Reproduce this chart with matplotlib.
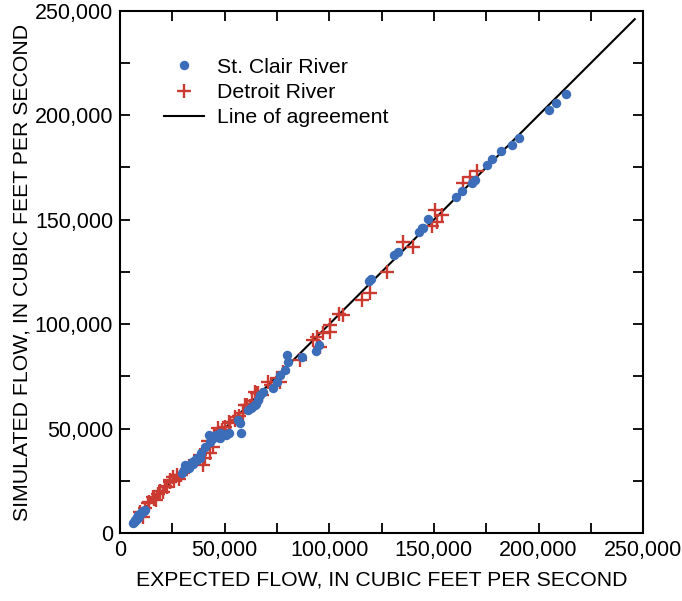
import matplotlib
matplotlib.use("Agg")
import matplotlib.pyplot as plt
from matplotlib.ticker import MultipleLocator, FuncFormatter
import numpy as np

plt.rcParams['font.family'] = ['Liberation Sans', 'DejaVu Sans']

# flows, in thousands of cubic feet per second
stclair_expected = [213.2, 208.4, 205.1, 190.7, 187.4, 182.1, 177.8, 175.4, 169.7, 168.3,
                    163.5, 160.6, 147.2, 144.8, 144.4, 142.9, 132.9, 131.0, 119.0, 120.0,
                    95.1, 93.7, 87.0, 79.8, 80.3, 78.9, 76.5, 75.0, 73.1, 68.4,
                    66.0, 64.5, 62.5, 56.4, 57.4, 57.8, 52.1, 50.5, 47.8, 46.5,
                    42.5, 43.0, 40.6, 38.5, 36.8, 36.0, 34.4, 33.5, 31.1, 29.6,
                    30.5, 10.5, 9.8, 8.6, 8.0, 7.2, 6.8, 6.2, 11.2,
                    33.0, 35.0, 37.0, 38.0, 32.0, 44.0, 46.0, 48.0, 49.0, 47.0,
                    61.0, 63.0, 65.0, 67.0, 9.0, 10.0, 8.5, 7.5, 11.5, 12.0]
stclair_simulated = [210.3, 205.9, 202.6, 189.2, 185.8, 183.0, 179.1, 176.2, 169.1, 167.6,
                     163.8, 160.9, 150.4, 146.1, 146.1, 144.2, 134.6, 133.1, 120.7, 121.5,
                     90.0, 87.2, 84.3, 85.2, 81.9, 78.1, 75.7, 72.3, 69.4, 67.5,
                     63.7, 61.3, 60.0, 54.1, 52.7, 47.9, 47.9, 47.0, 45.5, 46.0,
                     46.9, 43.6, 41.2, 38.5, 35.9, 35.0, 34.0, 32.8, 32.6, 28.7,
                     30.2, 10.1, 9.5, 8.6, 7.5, 6.2, 5.5, 4.8, 10.8,
                     31.0, 33.0, 35.0, 36.0, 31.5, 45.0, 47.0, 48.0, 47.5, 46.0,
                     59.0, 60.5, 62.0, 66.0, 8.0, 9.5, 7.0, 6.5, 10.5, 11.0]

detroit_expected = [170.7, 167.3, 164.0, 150.6, 153.9, 151.5, 149.1, 135.3, 140.1, 127.6,
                    119.5, 115.7, 106.6, 104.5, 97.0, 100.4, 95.6, 100.4, 86.0, 76.5,
                    70.7, 64.5, 59.8, 67.9, 65.5, 60.7, 58.8, 52.6, 48.8, 46.8,
                    44.5, 43.0, 38.2, 40.6, 39.7, 25.3, 23.9, 22.5, 20.6, 15.8,
                    13.4, 12.0, 9.6, 11.0, 27.0, 26.0, 21.5, 18.0, 17.0, 55.0,
                    62.0, 72.0, 50.0, 33.0, 29.0,
                    14.0, 16.0, 19.0, 24.0, 28.0, 30.0, 55.0, 57.0, 63.0, 66.0,
                    42.0, 45.0, 52.0, 75.0, 78.0, 92.0, 94.0]
detroit_simulated = [173.4, 170.5, 167.6, 154.7, 152.3, 149.0, 147.0, 139.4, 137.0, 125.0,
                     114.9, 111.6, 104.4, 105.0, 95.8, 96.3, 89.1, 99.6, 82.9, 72.3,
                     72.3, 67.5, 61.3, 66.1, 67.0, 61.3, 57.5, 52.7, 49.3, 50.3,
                     41.2, 38.3, 37.4, 35.9, 32.6, 26.8, 24.4, 22.0, 19.6, 17.2,
                     14.4, 12.0, 10.1, 7.7, 28.0, 25.0, 22.5, 18.5, 16.0, 55.5,
                     61.0, 71.0, 51.0, 32.0, 28.0,
                     15.0, 16.5, 20.0, 25.5, 26.0, 29.0, 54.0, 56.0, 63.0, 67.0,
                     44.0, 47.0, 53.0, 74.0, 77.0, 92.5, 94.0]

agreement = [5.0, 246.0]

fig = plt.figure(figsize=(6.82, 6.01), dpi=100)
ax = fig.add_axes([0.176, 0.113, 0.767, 0.869])

ax.plot(np.array(agreement) * 1000, np.array(agreement) * 1000, color='black', lw=1.5,
        label='Line of agreement', zorder=1)
ax.plot(np.array(stclair_expected) * 1000, np.array(stclair_simulated) * 1000, 'o',
        color='#3b6db9', ms=6.8, mew=0, label='St. Clair River', zorder=3)
ax.plot(np.array(detroit_expected) * 1000, np.array(detroit_simulated) * 1000, '+',
        color='#cc3b32', ms=10, mew=1.7, label='Detroit River', zorder=2)

ax.set_xlim(0, 250000)
ax.set_ylim(0, 250000)
for a in (ax.xaxis, ax.yaxis):
    a.set_major_locator(MultipleLocator(50000))
    a.set_minor_locator(MultipleLocator(25000))
    a.set_major_formatter(FuncFormatter(lambda v, p: f"{int(v):,}"))
ax.tick_params(which='both', direction='in', top=True, right=True, length=7, width=1.3,
               labelsize=15.5, pad=5)
for s in ax.spines.values():
    s.set_linewidth(1.5)

ax.set_xlabel('EXPECTED FLOW, IN CUBIC FEET PER SECOND', fontsize=15.3, labelpad=7)
ax.set_ylabel('SIMULATED FLOW, IN CUBIC FEET PER SECOND', fontsize=15.3, labelpad=2)

handles, labels = ax.get_legend_handles_labels()
order = [1, 2, 0]
ax.legend([handles[i] for i in order], [labels[i] for i in order], loc='upper left',
          bbox_to_anchor=(0.047, 0.947), frameon=False, fontsize=15.3, handlelength=1.9,
          handletextpad=0.6, labelspacing=0.3)

fig.savefig('out.png', dpi=100)
